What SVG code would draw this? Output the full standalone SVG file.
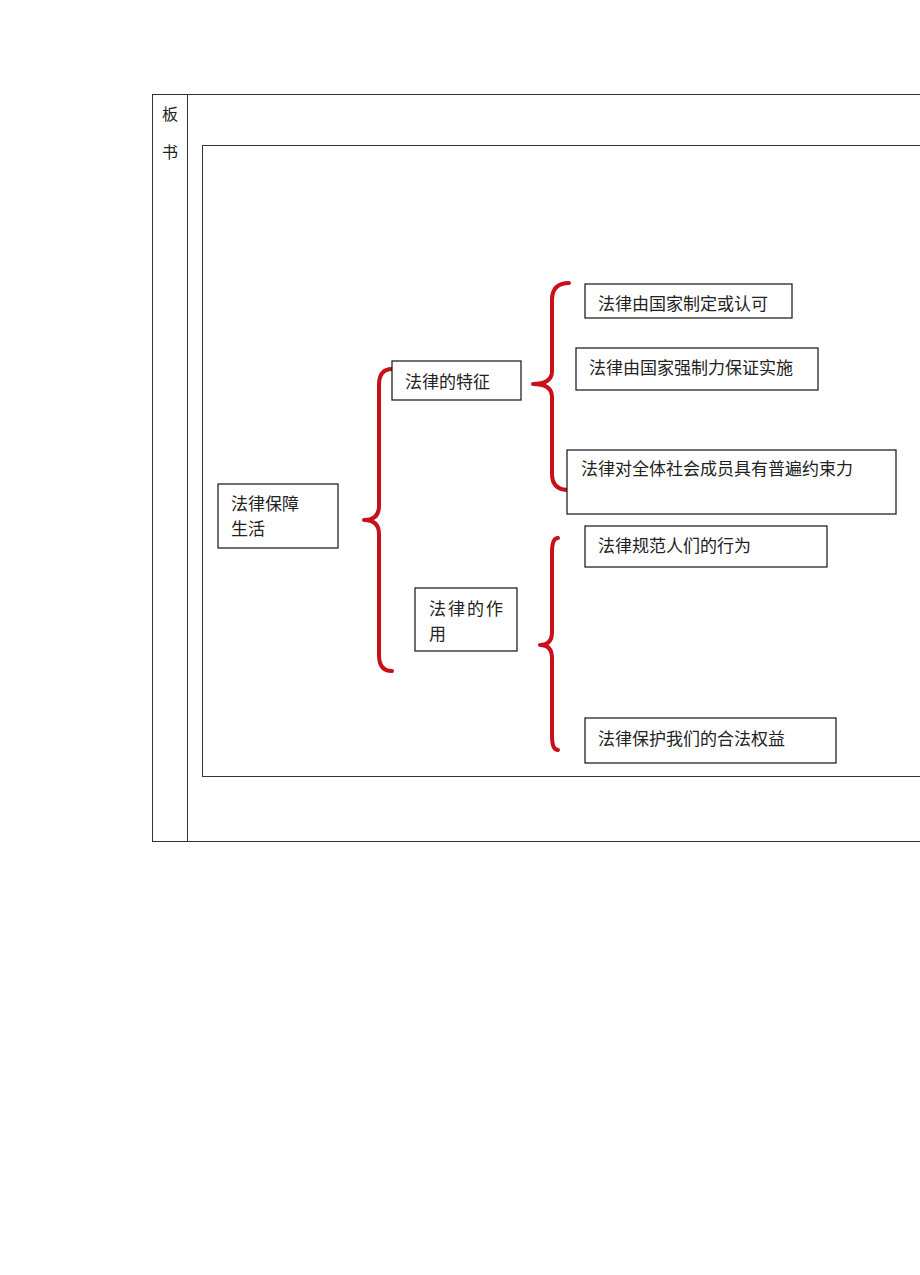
<svg xmlns="http://www.w3.org/2000/svg" width="920" height="1275" viewBox="0 0 920 1275">
<style>
.frame{fill:none;stroke:#333;stroke-width:1}
.box{fill:#fff;stroke:#111;stroke-width:1.2}
.t{font-family:"Noto Sans CJK SC","Noto Sans CJK JP",sans-serif;font-size:17px;fill:#222}
.brace{fill:none;stroke:#c8101a;stroke-width:4;stroke-linecap:round;stroke-linejoin:round}
</style>
<rect width="920" height="1275" fill="#fff"/>
<g id="table">
<line class="frame" x1="152" y1="94.5" x2="920" y2="94.5"/>
<line class="frame" x1="152" y1="841.5" x2="920" y2="841.5"/>
<line class="frame" x1="152.5" y1="94" x2="152.5" y2="842"/>
<line class="frame" x1="187.5" y1="94" x2="187.5" y2="842"/>
<text class="t" x="170" y="120" text-anchor="middle" style="font-size:16px">板</text>
<text class="t" x="170" y="158" text-anchor="middle" style="font-size:16px">书</text>
<line class="frame" x1="202" y1="145.5" x2="920" y2="145.5"/>
<line class="frame" x1="202" y1="776.5" x2="920" y2="776.5"/>
<line class="frame" x1="202.5" y1="145" x2="202.5" y2="777"/>
</g>
<g id="connectors">
<path class="brace" d="M392,369 Q379,369 379,385 L379,506 Q379,520 364,520 Q379,520 379,534 L379,655 Q379,671 392,671"/>
<path class="brace" d="M569,283 Q552,283 552,300 L552,371 Q552,384 533,384 Q552,384 552,397 L552,474 Q552,490 569,490"/>
<path class="brace" d="M558,538 Q552,538 552,552 L552,632 Q552,645 540,645 Q552,645 552,658 L552,736 Q552,750 558,750"/>
</g>
<g id="n-root"><rect class="box" x="218" y="484" width="120" height="64"/>
<text class="t" x="231" y="510">法律保障</text><text class="t" x="231" y="535">生活</text></g>
<g id="n-feature"><rect class="box" x="392" y="361" width="129" height="39"/>
<text class="t" x="405" y="388">法律的特征</text></g>
<g id="n-role"><rect class="box" x="415" y="588" width="102" height="63"/>
<text class="t" x="429" y="615" letter-spacing="2">法律的作</text><text class="t" x="429" y="640">用</text></g>
<g id="n-f1"><rect class="box" x="585" y="284" width="207" height="34"/>
<text class="t" x="598" y="310">法律由国家制定或认可</text></g>
<g id="n-f2"><rect class="box" x="576" y="348" width="242" height="42"/>
<text class="t" x="589" y="374">法律由国家强制力保证实施</text></g>
<g id="n-f3"><rect class="box" x="567" y="450" width="329" height="64"/>
<text class="t" x="581" y="475">法律对全体社会成员具有普遍约束力</text></g>
<g id="n-r1"><rect class="box" x="585" y="526" width="242" height="41"/>
<text class="t" x="598" y="552">法律规范人们的行为</text></g>
<g id="n-r2"><rect class="box" x="585" y="718" width="251" height="45"/>
<text class="t" x="598" y="745">法律保护我们的合法权益</text></g>
</svg>
